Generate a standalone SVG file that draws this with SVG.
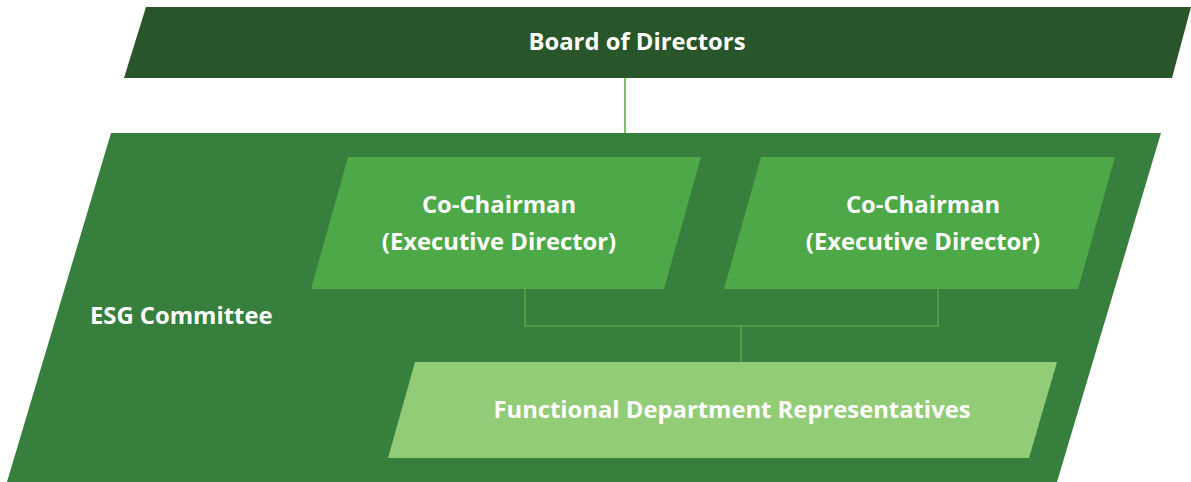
<svg xmlns="http://www.w3.org/2000/svg" width="1191" height="482" viewBox="0 0 1191 482">
  <style>
    .lbl { font-family: "Open Sans", "Noto Sans", "DejaVu Sans", sans-serif; font-weight: 700; font-size: 23.8px; fill: #ffffff; }
    .mid { text-anchor: middle; }
    .conn { fill: none; stroke: #52ab4a; stroke-width: 1.5; }
  </style>
  <rect width="1191" height="482" fill="#ffffff"/>
  <g id="board">
    <polygon points="146,7 1191,7 1172,78 124,78" fill="#29552a"/>
    <text class="lbl mid" x="637" y="50">Board of Directors</text>
  </g>
  <g id="esg-committee">
    <polygon points="111,133 1161,133 1057,482 7,482" fill="#377f3c"/>
    <text class="lbl" x="90" y="324">ESG Committee</text>
  </g>
  <g id="co-chairman-1">
    <polygon points="348,157 701,157 664,289 311,289" fill="#4da947"/>
    <text class="lbl mid" x="499" y="213">Co-Chairman</text>
    <text class="lbl mid" x="499" y="250">(Executive Director)</text>
  </g>
  <g id="co-chairman-2">
    <polygon points="761,157 1115,157 1078,289 724,289" fill="#4da947"/>
    <text class="lbl mid" x="923" y="213">Co-Chairman</text>
    <text class="lbl mid" x="923" y="250">(Executive Director)</text>
  </g>
  <g id="functional-department">
    <polygon points="415,362 1057,362 1029,458 388,458" fill="#92cc77"/>
    <text class="lbl mid" x="732" y="418">Functional Department Representatives</text>
  </g>
  <g id="connectors">
    <line x1="625" y1="78" x2="625" y2="133" stroke="#7dc06f" stroke-width="2"/>
    <polyline class="conn" points="525,289 525,326 938,326 938,289"/>
    <line class="conn" x1="741" y1="326" x2="741" y2="362"/>
  </g>
</svg>
